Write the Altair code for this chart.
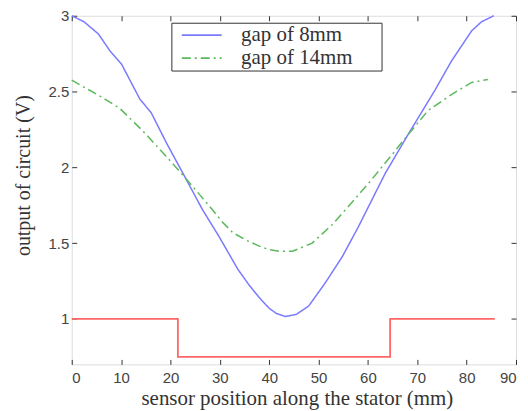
import altair as alt
import pandas as pd

# sensor output, gap of 8 mm
x8 = [0, 2.5, 5.4, 7.7, 10.1, 13.8, 16.1, 19.2, 23.2, 26.5, 29.9, 33.6, 36, 38, 40,
      41.5, 43.3, 45.5, 48, 51.4, 54.8, 58.1, 60.8, 63.5, 68.2, 73.6, 76.9, 81, 83, 85.5]
y8 = [3.0, 2.96, 2.88, 2.77, 2.68, 2.45, 2.36, 2.16, 1.92, 1.72, 1.54, 1.33, 1.22, 1.14, 1.07,
      1.035, 1.016, 1.03, 1.085, 1.24, 1.41, 1.61, 1.785, 1.96, 2.22, 2.51, 2.70, 2.90, 2.96, 3.0]

# sensor output, gap of 14 mm
x14 = [0, 5.7, 9.7, 14.4, 19.2, 22.2, 25.9, 28.5, 30.5, 32.6, 35.3, 38, 40, 42, 44.7, 48.7,
       52.7, 56, 60, 64.8, 67.5, 72.2, 76.9, 81, 84.3]
y14 = [2.575, 2.47, 2.39, 2.24, 2.07, 1.96, 1.82, 1.72, 1.64, 1.57, 1.52, 1.48, 1.457, 1.446,
       1.446, 1.50, 1.62, 1.74, 1.89, 2.08, 2.19, 2.375, 2.48, 2.56, 2.58]

# stator pole (reference step)
step_x = [0, 21.5, 64.5, 85.7]
step_y = [1.0, 0.75, 1.0, 1.0]

series = ["gap of 8mm", "gap of 14mm"]
x_ticks = [0, 10, 20, 30, 40, 50, 60, 70, 80, 90]
y_ticks = [1, 1.5, 2, 2.5, 3]

curves = pd.concat([
    pd.DataFrame({"x": x8, "y": y8, "s": series[0]}),
    pd.DataFrame({"x": x14, "y": y14, "s": series[1]}),
])
step = pd.DataFrame({"x": step_x, "y": step_y})

xscale = alt.Scale(domain=[0, 90], nice=False, zero=False)
yscale = alt.Scale(domain=[0.7, 3], nice=False, zero=False)

tick_col = "#333333"
lab_col = "#444444"

x_bottom = alt.Axis(values=x_ticks, orient="bottom", offset=-5, tickSize=5, domain=False,
                    grid=False, tickColor=tick_col, labelFont="Liberation Sans", labelFontSize=15,
                    labelColor=lab_col, labelPadding=6,
                    title="sensor position along the stator (mm)", titleFont="Liberation Serif",
                    titleFontSize=21, titleFontWeight="normal", titleColor="#333333",
                    titleX=226, titleY=45, titleBaseline="alphabetic", titleAlign="center")
y_left = alt.Axis(values=y_ticks, orient="left", offset=-5, tickSize=5, domain=False, grid=False,
                  tickColor=tick_col, labelFont="Liberation Sans", labelFontSize=15,
                  labelColor=lab_col, labelPadding=3, labelExpr="datum.value + ''",
                  title="output of circuit  (V)", titleFont="Liberation Serif", titleFontSize=20,
                  titleFontWeight="normal", titleColor="#333333", titleAngle=270,
                  titleX=-53, titleY=160, titleAlign="center", titleBaseline="middle")
x_top = alt.Axis(values=x_ticks, orient="top", offset=-5, tickSize=5, domain=False, grid=False,
                 labels=False, tickColor=tick_col, title=None)
y_right = alt.Axis(values=y_ticks, orient="right", offset=-5, tickSize=5, domain=False,
                   grid=False, labels=False, tickColor=tick_col, title=None)

legend = alt.Legend(orient="none", legendX=100, legendY=7, title=None,
                    symbolType="M-1,0H7", symbolSize=100, symbolStrokeWidth=1.8,
                    symbolOffset=3, labelFont="Liberation Serif",
                    labelExpr="datum.label + '\u00a0\u00a0\u00a0\u00a0\u00a0\u200b'",
                    labelFontSize=21, labelColor="#333333", labelOffset=44,
                    strokeColor="#333333", fillColor="white", padding=2, rowPadding=1)

lines = alt.Chart(curves).mark_line(strokeWidth=1.5).encode(
    x=alt.X("x:Q", scale=xscale, axis=x_bottom),
    y=alt.Y("y:Q", scale=yscale, axis=y_left),
    color=alt.Color("s:N", scale=alt.Scale(domain=series, range=["#7a7aff", "#5cb85c"]),
                    legend=legend),
    strokeDash=alt.StrokeDash("s:N", scale=alt.Scale(domain=series, range=[[1, 0], [9, 4, 2, 4]]),
                              legend=legend),
)

red = alt.Chart(step).mark_line(strokeWidth=1.8, color="#ff6666", interpolate="step-after").encode(
    x=alt.X("x:Q", scale=xscale, axis=x_top),
    y=alt.Y("y:Q", scale=yscale, axis=y_right),
)

chart = alt.layer(lines, red).resolve_axis(x="independent", y="independent").properties(
    width=446, height=350,
    autosize=alt.AutoSizeParams(type="none"),
    padding={"left": 64, "top": 7, "right": 4, "bottom": 46},
).configure_view(stroke="#333333", strokeWidth=1).configure(background="white")

chart.save("out.html", embed_options={"renderer": "svg", "actions": False})
